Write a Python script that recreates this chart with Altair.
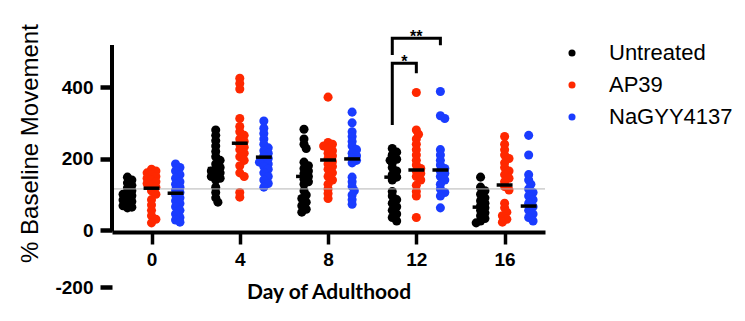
import altair as alt
import pandas as pd

# ---------------- data ----------------
days = [0, 4, 8, 12, 16]
groups = ["Untreated", "AP39", "NaGYY4137"]
colors = ["#000000", "#FF2800", "#1A3CFF"]

untreated = {
    0: [148, 140, 132, 125, 118, 110, 104, 100, 96, 92, 88, 84, 80, 76, 72, 68, 64, 62],
    4: [280, 265, 250, 235, 220, 205, 195, 185, 175, 170, 165, 160, 155, 150, 145, 140, 120, 105, 90, 78],
    8: [282, 255, 240, 228, 190, 180, 172, 165, 158, 150, 142, 135, 128, 110, 98, 88, 78, 68, 58, 50],
    12: [228, 218, 210, 208, 198, 195, 188, 175, 165, 155, 148, 140, 108, 95, 85, 75, 65, 55, 45, 35, 25],
    16: [148, 120, 110, 100, 90, 82, 75, 68, 62, 55, 48, 40, 32, 25, 20],
}
ap39 = {
    0: [170, 165, 160, 155, 150, 145, 140, 135, 130, 125, 120, 110, 100, 85, 70, 55, 40, 30, 20],
    4: [425, 410, 395, 312, 290, 275, 265, 255, 248, 240, 232, 225, 215, 205, 195, 180, 160, 150, 105, 92],
    8: [372, 245, 240, 235, 228, 222, 215, 208, 200, 192, 185, 178, 170, 160, 150, 140, 128, 115, 102, 88],
    12: [385, 280, 268, 255, 240, 225, 210, 195, 182, 172, 165, 158, 150, 140, 125, 108, 95, 35],
    16: [262, 240, 225, 210, 200, 188, 175, 165, 155, 145, 135, 122, 112, 75, 62, 50, 40, 30, 22],
}
nagyy = {
    0: [185, 175, 165, 155, 145, 135, 128, 120, 112, 105, 98, 90, 82, 74, 65, 55, 45, 35, 28, 22],
    4: [305, 285, 270, 255, 240, 230, 222, 215, 208, 200, 195, 190, 185, 178, 170, 160, 150, 140, 130, 120],
    8: [330, 300, 275, 262, 248, 235, 225, 215, 208, 202, 195, 188, 148, 135, 122, 110, 98, 85, 72],
    12: [388, 320, 312, 225, 210, 195, 182, 172, 165, 158, 150, 140, 128, 115, 105, 95, 62],
    16: [265, 210, 155, 140, 128, 115, 105, 95, 85, 75, 65, 55, 45, 35, 25],
}
# group centre lines (as drawn in the picture)
mean_untreated = [98, 172, 150, 148, 64]
mean_ap39 = [117, 243, 196, 168, 126]
mean_nagyy = [103, 204, 199, 168, 67]

baseline_level = [115]
y_ticks = [-200, 0, 200, 400]

# significance brackets at day 12 (day, value pairs)
bracket_x = [10.91, 10.91, 13.09, 13.09, 10.91, 10.91, 12.0, 12.0]
bracket_y = [490, 537, 537, 517, 294, 467, 467, 439]
bracket_id = ["a", "a", "a", "a", "b", "b", "b", "b"]
star_text = ["**", "*"]
star_x = [12.0, 11.455]
star_y = [526, 456]

# ---------------- layout helpers ----------------
W, H = 433, 187
X_DOM = [-1.79, 17.83]
PX_DAY = W / (X_DOM[1] - X_DOM[0])
PX_VAL = 185 / 518
GROUP_SHIFT = 1.09


def swarm(values, min_dist=4.6, step=2.2):
    placed = []
    out = {}
    order = sorted(range(len(values)), key=lambda i: -values[i])
    for i in order:
        py = values[i] * PX_VAL
        chosen = None
        for k in [0, 1, -1, 2, -2]:
            dx = k * step
            if all((dx - qx) ** 2 + (py - qy) ** 2 >= min_dist ** 2 for qx, qy in placed):
                chosen = dx
                break
        if chosen is None:
            chosen = 0
        placed.append((chosen, py))
        out[i] = chosen / PX_DAY
    return [out[i] for i in range(len(values))]


rows = []
for gi, (g, table) in enumerate(zip(groups, [untreated, ap39, nagyy])):
    for d in days:
        vals = table[d]
        offs = swarm(vals)
        for v, o in zip(vals, offs):
            rows.append({"group": g, "day": d, "value": v,
                         "xpos": d + (gi - 1) * GROUP_SHIFT + o})
points = pd.DataFrame(rows)

mrows = []
for gi, (g, ms) in enumerate(zip(groups, [mean_untreated, mean_ap39, mean_nagyy])):
    for d, m in zip(days, ms):
        c = d + (gi - 1) * GROUP_SHIFT
        mrows.append({"group": g, "value": m, "x1": c - 0.36, "x2": c + 0.36})
means = pd.DataFrame(mrows)

brackets = pd.DataFrame({"x": bracket_x, "y": bracket_y, "id": bracket_id,
                         "order": list(range(len(bracket_x)))})
stars = pd.DataFrame({"t": star_text, "x": star_x, "y": star_y})

FONT = "Liberation Sans"

xscale = alt.Scale(domain=X_DOM, nice=False, zero=False)
yscale = alt.Scale(domain=[-200, 0, 518], range=[242, 185, 0], nice=False, zero=False)

pts = alt.Chart(points).mark_circle(size=82, opacity=1).encode(
    x=alt.X("xpos:Q", scale=xscale, axis=alt.Axis(
        values=days, title="Day of Adulthood", grid=False,
        domainColor="black", domainWidth=4, tickColor="black", tickWidth=3.5,
        tickSize=12, labelFont=FONT, labelFontSize=19, labelFontWeight="bold",
        labelColor="black", labelPadding=6, titleFont="Lato", titleFontSize=21,
        titleFontWeight="bold", titleColor="black", titlePadding=12)),
    y=alt.Y("value:Q", scale=yscale, axis=alt.Axis(
        values=y_ticks, title="% Baseline Movement", grid=False, domain=False,
        labelExpr="datum.value < 0 ? '-' + (-datum.value) : '' + datum.value",
        tickColor="black", tickWidth=4.5, tickSize=12, labelFont=FONT,
        labelFontSize=19, labelFontWeight="bold", labelColor="black",
        labelPadding=7, titleFont=FONT, titleFontSize=24, titleFontWeight="normal",
        titleColor="black", titleAngle=-90, titleX=-75, titleY=98,
        titleAlign="center", titleBaseline="alphabetic")),
    color=alt.Color("group:N", scale=alt.Scale(domain=groups, range=colors),
                    legend=alt.Legend(orient="none", legendX=449, legendY=-3,
                                      title=None, labelFont=FONT, labelFontSize=22,
                                      labelColor="black", symbolSize=50,
                                      symbolType="circle", labelOffset=26,
                                      rowPadding=10, padding=0,
                                      symbolStrokeWidth=0)),
)

spine = alt.Chart(pd.DataFrame({"a": [0]})).mark_rule(color="black", strokeWidth=4).encode(
    x=alt.X(datum=X_DOM[0], scale=xscale),
    y=alt.Y(datum=-5, scale=yscale),
    y2=alt.Y2(datum=518),
)

mean_marks = alt.Chart(means).mark_rule(color="black", strokeWidth=3.5).encode(
    x=alt.X("x1:Q", scale=xscale), x2="x2:Q", y=alt.Y("value:Q", scale=yscale))

base_line = alt.Chart(pd.DataFrame({"v": baseline_level})).mark_rule(
    color="#b4b4b4", strokeWidth=1).encode(y=alt.Y("v:Q", scale=yscale))

br = alt.Chart(brackets).mark_line(color="black", strokeWidth=3, strokeCap="butt",
                                   strokeJoin="miter").encode(
    x=alt.X("x:Q", scale=xscale), y=alt.Y("y:Q", scale=yscale),
    detail="id:N", order="order:Q")

st = alt.Chart(stars).mark_text(font=FONT, fontSize=16, fontWeight="bold",
                                color="black", baseline="alphabetic",
                                align="center").encode(
    x=alt.X("x:Q", scale=xscale), y=alt.Y("y:Q", scale=yscale), text="t:N")

chart = alt.layer(pts, base_line, mean_marks, spine, br, st).properties(
    width=W, height=H,
    autosize=alt.AutoSizeParams(type="none"),
    padding={"left": 112, "top": 45, "right": 745 - 112 - W, "bottom": 321 - 45 - H},
).configure_view(stroke=None).configure_axis(labelFlush=False)

chart.save("out.html", embed_options={"renderer": "svg", "actions": False})
